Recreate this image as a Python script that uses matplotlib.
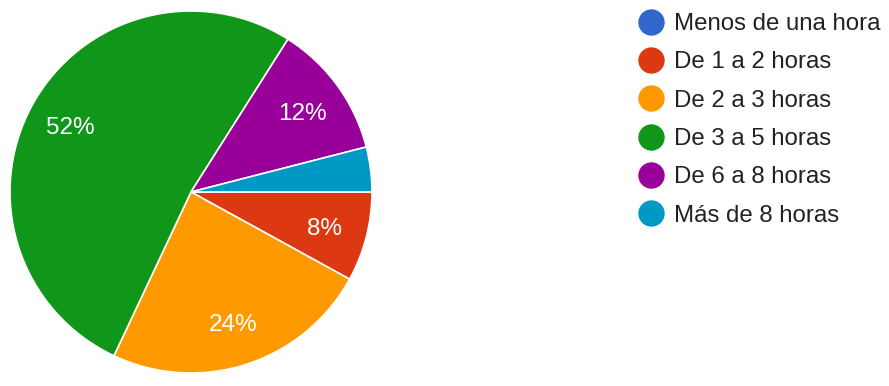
import matplotlib
matplotlib.use("Agg")
import matplotlib.pyplot as plt
from matplotlib.lines import Line2D

plt.rcParams["font.family"] = ["Liberation Sans", "DejaVu Sans"]

# Data (percent of responses)
categories = [
    "Menos de una hora",
    "De 1 a 2 horas",
    "De 2 a 3 horas",
    "De 3 a 5 horas",
    "De 6 a 8 horas",
    "Más de 8 horas",
]
values = [0, 8, 24, 52, 12, 4]
colors = ["#3366cc", "#dc3912", "#ff9900", "#109618", "#990099", "#0099c6"]

W, H = 889, 386
fig = plt.figure(figsize=(W / 100, H / 100), dpi=100)
fig.patch.set_facecolor("white")

# Pie axes placed in pixel terms: centre (191, 192), radius 181
cx, cy, r = 191, 192, 181
ax = fig.add_axes([(cx - r) / W, (H - cy - r) / H, 2 * r / W, 2 * r / H])


def fmt(p):
    # Google hides labels for small slices
    return f"{p:.0f}%" if p >= 5 else ""


wedges, _, autotexts = ax.pie(
    values,
    colors=colors,
    startangle=0,
    counterclock=False,
    autopct=fmt,
    pctdistance=0.76,
    wedgeprops={"edgecolor": "white", "linewidth": 1.2},
    textprops={"color": "white", "fontsize": 17.5},
)
for t in autotexts:
    t.set_verticalalignment("center_baseline")
ax.set_xlim(-1, 1)
ax.set_ylim(-1, 1)
ax.set_aspect("equal")

# Legend on the right
handles = [
    Line2D([], [], linestyle="none", marker="o", markersize=18,
           markerfacecolor=c, markeredgecolor=c)
    for c in colors
]
fig.legend(
    handles,
    categories,
    loc="upper left",
    bbox_to_anchor=(639 / W, 1 - 13 / H),
    frameon=False,
    fontsize=17.3,
    labelcolor="#222222",
    handlelength=1.0,
    handletextpad=0.45,
    labelspacing=0.68,
    borderpad=0,
    borderaxespad=0,
)

fig.savefig("out.png", dpi=100, facecolor="white")
